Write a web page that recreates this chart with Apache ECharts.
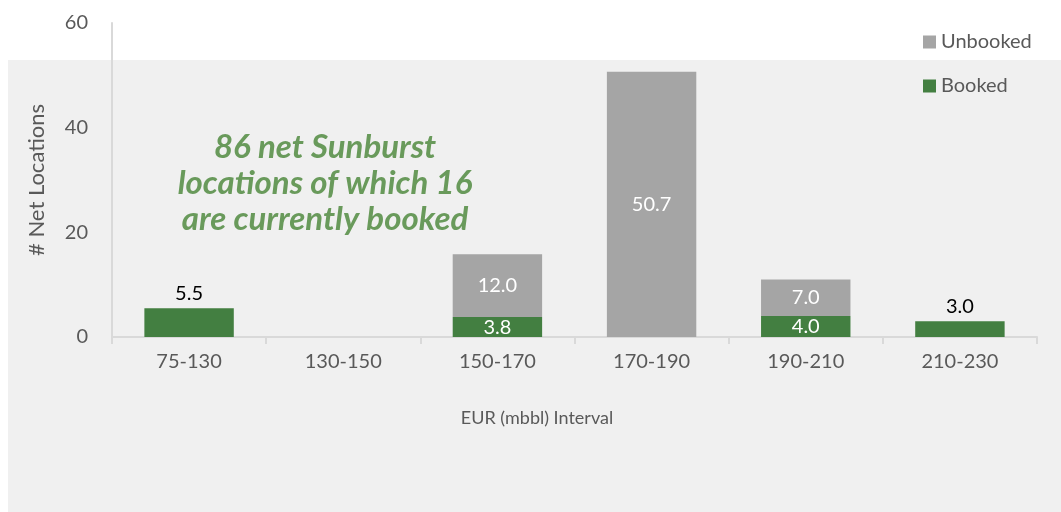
<!DOCTYPE html>
<html>
<head>
<meta charset="utf-8">
<script src="https://cdn.jsdelivr.net/npm/echarts@6/dist/echarts.min.js"></script>
<style>
  html, body { margin: 0; padding: 0; background: #fff; }
  #chart { width: 1061px; height: 512px; }
</style>
</head>
<body>
<div id="chart"></div>
<script>
const categories = ['75-130', '130-150', '150-170', '170-190', '190-210', '210-230'];
const booked = [5.5, 0, 3.8, 0, 4.0, 3.0];
const unbooked = [0, 0, 12.0, 50.7, 7.0, 0];
const yTicks = [0, 20, 40, 60];

const FONT = 'Lato, "Open Sans", sans-serif';
const GREEN = '#437f41';
const GREY = '#a5a5a5';

// booked label sits on top (black) when nothing is stacked above it
const bookedData = booked.map((v, i) => ({
  value: v,
  label: unbooked[i] > 0
    ? { show: v > 0, position: 'inside', color: '#fff' }
    : { show: v > 0, position: 'top', color: '#000', distance: 5 }
}));
const unbookedData = unbooked.map(v => ({
  value: v,
  label: { show: v > 0, position: 'inside', color: '#fff' }
}));

let myChart = echarts.init(document.getElementById('chart'));

let option = {
  backgroundColor: '#fff',
  textStyle: { fontFamily: FONT },
  graphic: [
    {
      type: 'rect', z: -10, silent: true,
      shape: { x: 8, y: 60, width: 1053, height: 452 },
      style: { fill: '#f0f0f0' }
    },
    {
      type: 'text', z: 10,
      x: 325, y: 129,
      style: {
        text: '86 net Sunburst\nlocations of which 16\nare currently booked',
        textAlign: 'center',
        font: 'italic bold 33px ' + FONT,
        fill: '#699a5b',
        lineHeight: 36
      }
    },
    {
      type: 'text', z: 10,
      x: 537, y: 418,
      style: {
        text: 'EUR (mbbl) Interval',
        textAlign: 'center',
        textVerticalAlign: 'middle',
        font: '18px ' + FONT,
        fill: '#595959'
      }
    }
  ],
  legend: {
    data: ['Unbooked', 'Booked'],
    orient: 'vertical',
    left: 918,
    top: 27,
    itemGap: 24,
    itemWidth: 13,
    itemHeight: 13,
    icon: 'rect',
    textStyle: { fontSize: 20, color: '#595959', fontFamily: FONT }
  },
  grid: {
    left: 112,
    right: 24,
    top: 23,
    bottom: 175,
    containLabel: false
  },
  xAxis: {
    type: 'category',
    data: categories,
    axisLine: { lineStyle: { color: '#d9d9d9', width: 2 } },
    axisTick: { show: true, length: 7, lineStyle: { color: '#d9d9d9', width: 2 } },
    axisLabel: { fontSize: 20, color: '#595959', margin: 15 }
  },
  yAxis: {
    type: 'value',
    min: 0,
    max: 60,
    interval: 20,
    name: '# Net Locations',
    nameLocation: 'middle',
    nameGap: 64,
    nameTextStyle: { fontSize: 22, color: '#595959', fontFamily: FONT },
    splitLine: { show: false },
    axisLine: { show: true, lineStyle: { color: '#d9d9d9', width: 2 } },
    axisTick: { show: false },
    axisLabel: {
      fontSize: 20, color: '#595959', margin: 24,
      formatter: v => yTicks.includes(v) ? String(v) : ''
    }
  },
  series: [
    {
      name: 'Booked',
      type: 'bar',
      stack: 'total',
      barWidth: '58%',
      itemStyle: { color: GREEN },
      label: { fontSize: 20, fontFamily: FONT, formatter: p => p.value.toFixed(1) },
      data: bookedData
    },
    {
      name: 'Unbooked',
      type: 'bar',
      stack: 'total',
      barWidth: '58%',
      itemStyle: { color: GREY },
      label: { fontSize: 20, fontFamily: FONT, formatter: p => p.value.toFixed(1) },
      data: unbookedData
    }
  ]
};

option && myChart.setOption(option);
</script>
</body>
</html>
